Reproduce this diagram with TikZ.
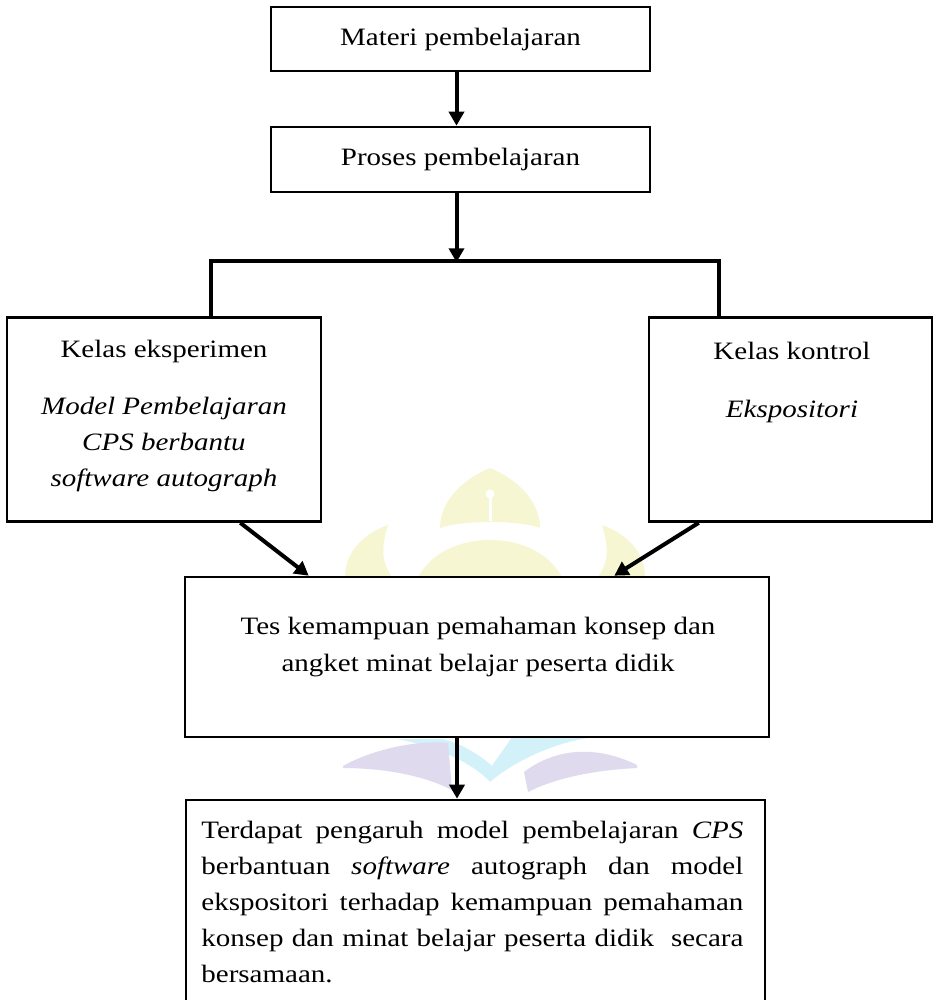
\documentclass[tikz,border=0pt]{standalone}
\usepackage{fontspec}
\setmainfont{Liberation Serif}[FakeStretch=1.16]
\usepackage{xcolor}
\usepackage{tikz}
\usetikzlibrary{positioning, arrows.meta, calc}

\begin{document}
\begin{tikzpicture}[x=0.5pt, y=-0.5pt, font=\fontsize{12.5}{18}\selectfont,
  box/.style={draw, line width=1.3pt, fill=white, inner sep=0pt},
  link/.style={line width=2pt},
  arr/.style={link, -{Triangle[length=7pt, width=7.5pt]}}]
\definecolor{wmYellow}{HTML}{F7F6D2}
\definecolor{wmLilac}{HTML}{DFDAED}
\definecolor{wmBlue}{HTML}{D2F1F9}
\fill[white] (0,0) rectangle (934,1000);
\useasboundingbox (0,0) rectangle (934,1000);

% watermark
\fill[wmYellow] (490,468) .. controls (515,478) and (540,500) .. (540,528) .. controls (520,520) and (460,520) .. (440,528) .. controls (440,500) and (465,478) .. (490,468) -- cycle;
\fill[white] (490,494) circle (2.2pt);
\draw[white, line width=1.5pt] (490,496) -- (490,521);
\fill[wmYellow] (418,577) .. controls (432,552) and (460,540) .. (490,540) .. controls (520,540) and (548,552) .. (562,577) -- cycle;
\fill[wmYellow] (345,577) .. controls (345,555) and (360,535) .. (388,525) .. controls (382,545) and (380,560) .. (392,577) -- cycle;
\fill[wmYellow] (645,577) .. controls (645,555) and (630,535) .. (602,525) .. controls (608,545) and (610,560) .. (598,577) -- cycle;
\fill[wmBlue] (397,739) .. controls (430,745) and (470,760) .. (490,782) .. controls (515,760) and (560,740) .. (597,737) -- (512,737) .. controls (505,748) and (497,758) .. (492,766) .. controls (480,755) and (462,744) .. (443,739) -- cycle;
\fill[wmLilac] (343,766) .. controls (375,748) and (420,740) .. (448,743) -- (452,790) .. controls (425,776) and (385,768) .. (343,768) -- cycle;
\fill[wmLilac] (524,772) .. controls (550,752) and (590,742) .. (637,765) -- (637,768) .. controls (595,770) and (555,778) .. (528,792) -- cycle;

\node[box, minimum width=189.5pt, minimum height=32pt] (materi) at (460.5,39) {Materi pembelajaran};
\node[box, minimum width=189.5pt, minimum height=32.5pt] (proses) at (460.5,159.5) {Proses pembelajaran};

\node[box, minimum width=157pt, minimum height=102pt] (eksp) at (164,419.5) {};
\node[anchor=base] (ekspA) at (164,357) {Kelas eksperimen};
\node[anchor=base] (ekspB) at (164,414) {\itshape Model Pembelajaran};
\node[anchor=base] (ekspC) at (164,450) {\itshape CPS berbantu};
\node[anchor=base] (ekspD) at (164,486) {\itshape software autograph};

\node[box, minimum width=141.5pt, minimum height=102pt] (kontrol) at (790.5,419.5) {};
\node[anchor=base] (kontrolA) at (792,359) {Kelas kontrol};
\node[anchor=base] (kontrolB) at (792,417) {\itshape Ekspositori};

\node[box, minimum width=292pt, minimum height=80pt] (tes) at (477,657) {};
\node[anchor=base] (tesA) at (478,634) {Tes kemampuan pemahaman konsep dan};
\node[anchor=base] (tesB) at (478,671) {angket minat belajar peserta didik};

\node[box, minimum width=289.5pt, minimum height=106pt] (hasil) at (475.5,906) {};
\node[anchor=north west, inner sep=0pt, text width=271pt, align=justify] (hasilT) at (201,821)
  {\hyphenpenalty=10000 Terdapat pengaruh model pembelajaran \textit{CPS}\linebreak
   berbantuan \textit{software} autograph dan model\linebreak
   ekspositori terhadap kemampuan pemahaman\linebreak
   konsep dan minat belajar peserta didik\ \ secara\linebreak
   bersamaan.};

\coordinate (split) at ($(proses.south)+(-4,69)$);
\coordinate (splitL) at (211,261);
\coordinate (splitR) at (719,261);

\draw[arr] ([xshift=-2pt]materi.south) -- ([xshift=-2pt]proses.north);
\draw[arr] ([xshift=-2pt]proses.south) -- (split);
\draw[link] (eksp.north -| splitL) -- (splitL) -- (splitR) -- (kontrol.north -| splitR);
\draw[arr] ([xshift=-41pt]eksp.south east) -- ([xshift=62.5pt]tes.north west);
\draw[arr] ([xshift=25.5pt]kontrol.south west) -- ([xshift=-78pt]tes.north east);
\draw[arr] ([xshift=-10pt]tes.south) -- ([xshift=-9.25pt]hasil.north);
\end{tikzpicture}
\end{document}
